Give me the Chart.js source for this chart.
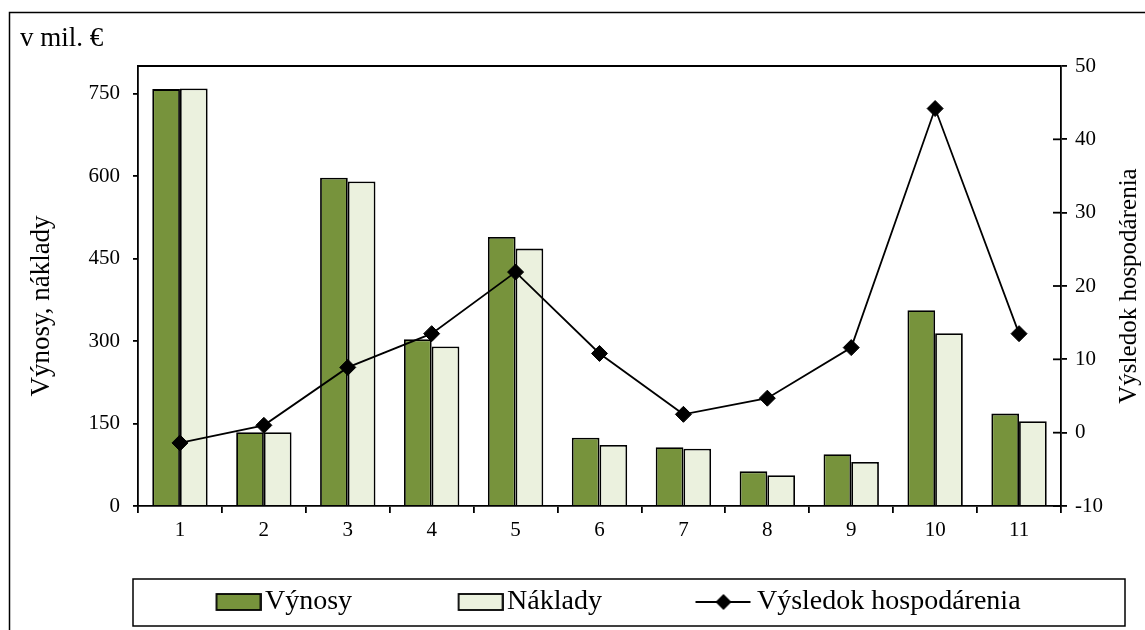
<!DOCTYPE html>
<html>
<head>
<meta charset="utf-8">
<script src="https://cdn.jsdelivr.net/npm/chart.js@4.4.1/dist/chart.umd.min.js"></script>
<style>
  body { margin: 0; background: #fff; }
  canvas { display: block; }
</style>
</head>
<body>
<canvas id="chart" width="1145" height="630"></canvas>
<script>
// data
const categories = ["1", "2", "3", "4", "5", "6", "7", "8", "9", "10", "11"];
const vynosy = [758, 134, 597, 303, 489, 124, 107, 63, 94, 356, 168];
const naklady = [759, 134, 590, 290, 468, 111, 104, 56, 80, 314, 154];
const vysledok = [-1.4, 1.0, 8.9, 13.5, 21.9, 10.8, 2.5, 4.7, 11.6, 44.2, 13.5];
const leftTicks = [0, 150, 300, 450, 600, 750];
const rightTicks = [-10, 0, 10, 20, 30, 40, 50];

const GREEN = "#77933C";
const LIGHT = "#EBF1DE";
const FONT = "'Liberation Serif', 'DejaVu Serif', serif";

// legend symbols as small canvases (box width W, symbol pushed to the right end)
const W = 132;
function legendSymbol(kind, color) {
  const c = document.createElement("canvas");
  c.width = W + 21;
  c.height = 18;
  const g = c.getContext("2d");
  g.strokeStyle = "#000";
  g.lineWidth = 1.8;
  if (kind === "box") {
    g.fillStyle = color;
    g.fillRect(c.width - 45, 1, 44, 16);
    g.strokeRect(c.width - 45, 1, 44, 16);
  } else {
    g.beginPath();
    g.moveTo(c.width - 58, 9);
    g.lineTo(c.width - 3, 9);
    g.stroke();
    g.fillStyle = "#000";
    const cx = c.width - 30;
    g.beginPath();
    g.moveTo(cx, 1); g.lineTo(cx + 8, 9); g.lineTo(cx, 17); g.lineTo(cx - 8, 9);
    g.closePath();
    g.fill();
  }
  return c;
}

const framePlugin = {
  id: "frame",
  afterLayout(chart) {
    chart.legend.left = 110;
  },
  beforeDraw(chart) {
    const ctx = chart.ctx;
    ctx.save();
    ctx.strokeStyle = "#000";
    ctx.lineWidth = 1.5;
    ctx.beginPath();
    ctx.moveTo(9.5, 640);
    ctx.lineTo(9.5, 12.5);
    ctx.lineTo(1160, 12.5);
    ctx.stroke();
    ctx.restore();
  },
  afterDraw(chart) {
    const ctx = chart.ctx;
    const area = chart.chartArea;
    const y1 = chart.scales.y1;
    ctx.save();
    ctx.strokeStyle = "#000";
    ctx.lineWidth = 1.8;
    // top edge of plot area
    ctx.beginPath();
    ctx.moveTo(area.left, area.top);
    ctx.lineTo(area.right, area.top);
    ctx.stroke();
    // inner half of the crossing ticks on the right axis
    y1.ticks.forEach(t => {
      const py = y1.getPixelForValue(t.value);
      ctx.beginPath();
      ctx.moveTo(area.right - 8, py);
      ctx.lineTo(area.right, py);
      ctx.stroke();
    });
    // legend box
    const lg = chart.legend;
    ctx.lineWidth = 1.5;
    ctx.strokeRect(133, lg.top, 992, lg.bottom - lg.top);

    ctx.fillStyle = "#000";
    ctx.font = "27px " + FONT;
    ctx.textAlign = "left";
    ctx.textBaseline = "alphabetic";
    ctx.fillText("v mil. €", 20, 46);

    ctx.textAlign = "center";
    ctx.textBaseline = "middle";
    ctx.save();
    ctx.translate(42, 306);
    ctx.rotate(-Math.PI / 2);
    ctx.font = "27px " + FONT;
    ctx.fillText("Výnosy, náklady", 0, 0);
    ctx.restore();
    ctx.save();
    ctx.translate(1129, (area.top + area.bottom) / 2);
    ctx.rotate(-Math.PI / 2);
    ctx.font = "25px " + FONT;
    ctx.fillText("Výsledok hospodárenia", 0, 0);
    ctx.restore();
    ctx.restore();
  }
};

const ctx = document.getElementById("chart").getContext("2d");
new Chart(ctx, {
  type: "bar",
  data: {
    labels: categories,
    datasets: [
      {
        label: "Výnosy",
        data: vynosy,
        backgroundColor: GREEN,
        borderColor: "#000",
        borderWidth: 1.8,
        yAxisID: "y",
        order: 1
      },
      {
        label: "Náklady",
        data: naklady,
        backgroundColor: LIGHT,
        borderColor: "#000",
        borderWidth: 1.8,
        yAxisID: "y",
        order: 1
      },
      {
        type: "line",
        label: "Výsledok hospodárenia",
        data: vysledok,
        borderColor: "#000",
        borderWidth: 1.8,
        pointStyle: "rectRot",
        pointRadius: 8,
        pointBackgroundColor: "#000",
        pointBorderColor: "#000",
        pointBorderWidth: 1,
        tension: 0,
        yAxisID: "y1",
        order: 0
      }
    ]
  },
  options: {
    responsive: false,
    animation: false,
    devicePixelRatio: 1,
    layout: {
      padding: { top: 66, left: 0, right: 0, bottom: 4 }
    },
    datasets: {
      bar: {
        categoryPercentage: 0.66,
        barPercentage: 1
      }
    },
    plugins: {
      tooltip: { enabled: false },
      legend: {
        position: "bottom",
        align: "start",
        labels: {
          usePointStyle: true,
          pointStyleWidth: W,
          padding: 9,
          color: "#000",
          font: { family: FONT, size: 28 },
          sort: (a, b) => a.datasetIndex - b.datasetIndex,
          generateLabels: function(chart) {
            return [
              { text: "Výnosy", datasetIndex: 0, pointStyle: legendSymbol("box", GREEN), lineWidth: 0, fillStyle: GREEN, strokeStyle: "#000", hidden: false },
              { text: "Náklady", datasetIndex: 1, pointStyle: legendSymbol("box", LIGHT), lineWidth: 0, fillStyle: LIGHT, strokeStyle: "#000", hidden: false },
              { text: "Výsledok hospodárenia", datasetIndex: 2, pointStyle: legendSymbol("line"), lineWidth: 0, fillStyle: "#000", strokeStyle: "#000", hidden: false }
            ];
          }
        }
      }
    },
    scales: {
      x: {
        grid: {
          offset: true,
          drawOnChartArea: false,
          tickLength: 7,
          color: "#000",
          lineWidth: 1.8
        },
        border: { color: "#000", width: 1.8 },
        ticks: {
          color: "#000",
          padding: 5,
          maxRotation: 0,
          font: { family: FONT, size: 21 }
        },
        afterFit: function(scale) { scale.height = 73; }
      },
      y: {
        position: "left",
        min: 0,
        max: 800,
        afterBuildTicks: function(scale) {
          scale.ticks = leftTicks.map(v => ({ value: v }));
        },
        grid: {
          drawOnChartArea: false,
          tickLength: 5,
          color: "#000",
          lineWidth: 1.8
        },
        border: { color: "#000", width: 1.8 },
        ticks: {
          color: "#000",
          padding: 13,
          font: { family: FONT, size: 21 }
        },
        afterFit: function(scale) { scale.width = 138; }
      },
      y1: {
        position: "right",
        min: -10,
        max: 50,
        afterBuildTicks: function(scale) {
          scale.ticks = rightTicks.map(v => ({ value: v }));
        },
        grid: {
          drawOnChartArea: false,
          tickLength: 6,
          color: "#000",
          lineWidth: 1.8
        },
        border: { color: "#000", width: 1.8 },
        ticks: {
          color: "#000",
          padding: 8,
          font: { family: FONT, size: 21 }
        },
        afterFit: function(scale) { scale.width = 84; }
      }
    }
  },
  plugins: [framePlugin]
});
</script>
</body>
</html>
